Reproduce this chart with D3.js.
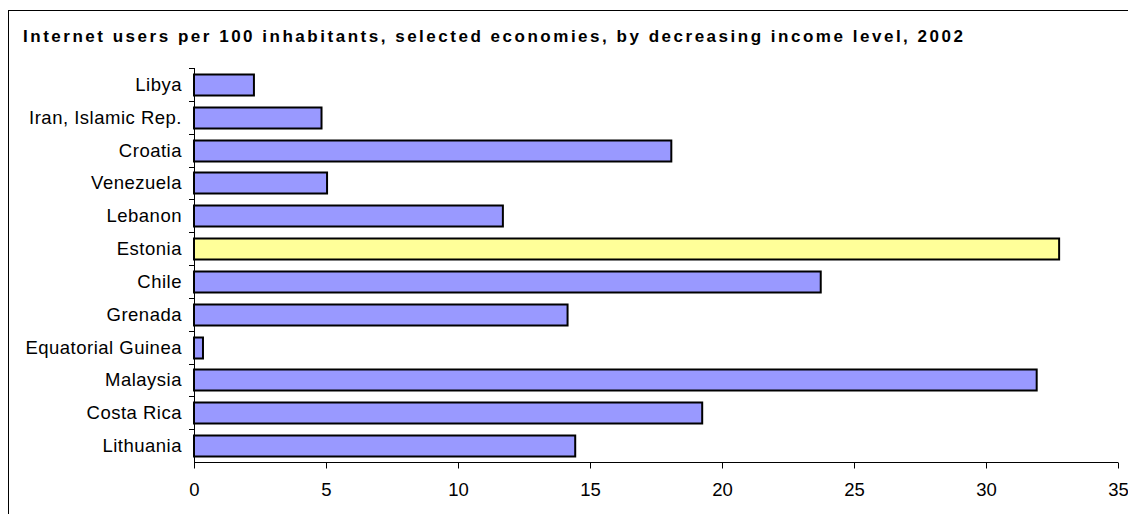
<!DOCTYPE html>
<html>
<head>
<meta charset="utf-8">
<script src="https://cdn.jsdelivr.net/npm/d3@7"></script>
<style>
  body { margin: 0; background: #fff; }
  svg { display: block; font-family: "Liberation Sans", Arial, sans-serif; }
</style>
</head>
<body>
<svg id="chart" width="1128" height="514"></svg>
<script>
const title = "Internet users per 100 inhabitants, selected economies, by decreasing income level, 2002";
const countries = ["Libya", "Iran, Islamic Rep.", "Croatia", "Venezuela", "Lebanon", "Estonia",
  "Chile", "Grenada", "Equatorial Guinea", "Malaysia", "Costa Rica", "Lithuania"];
const users = [2.27, 4.83, 18.08, 5.04, 11.7, 32.77, 23.74, 14.15, 0.34, 31.92, 19.25, 14.44];
const highlighted = ["Estonia"];
const xTicks = [0, 5, 10, 15, 20, 25, 30, 35];

const svg = d3.select("#chart");
const margin = { left: 194, top: 68, right: 1118, bottom: 462 };

// outer chart frame (runs off the right and bottom edge)
svg.append("rect")
  .attr("x", 8.5).attr("y", 10.5)
  .attr("width", 1200).attr("height", 600)
  .attr("fill", "none").attr("stroke", "#000").attr("stroke-width", 1);

svg.append("text")
  .attr("x", 23).attr("y", 41.5)
  .attr("font-size", 17).attr("font-weight", "bold")
  .attr("textLength", 940).attr("lengthAdjust", "spacing")
  .text(title);

const x = d3.scaleLinear().domain([0, 35]).range([margin.left, margin.right]);
const y = d3.scaleBand().domain(countries).range([margin.top, margin.bottom]).paddingInner(0.36).paddingOuter(0.18);
const band = d3.scaleBand().domain(countries).range([margin.top, margin.bottom]);

// bars
svg.append("g")
  .selectAll("rect")
  .data(countries)
  .join("rect")
  .attr("x", x(0))
  .attr("y", (d) => Math.round(y(d)) + 0.5)
  .attr("width", (d, i) => x(users[i]) - x(0))
  .attr("height", Math.round(y.bandwidth()))
  .attr("fill", (d) => highlighted.includes(d) ? "#ffff99" : "#9999ff")
  .attr("stroke", "#000")
  .attr("stroke-width", 2);

// category axis: line + ticks between categories
const yAxis = svg.append("g").attr("stroke", "#000").attr("stroke-width", 1);
yAxis.append("line")
  .attr("x1", margin.left + 0.5).attr("x2", margin.left + 0.5)
  .attr("y1", margin.top).attr("y2", margin.bottom);
yAxis.selectAll("line.tick")
  .data(countries)
  .join("line")
  .attr("class", "tick")
  .attr("x1", margin.left - 5).attr("x2", margin.left)
  .attr("y1", (d) => Math.round(band(d)) + 0.5)
  .attr("y2", (d) => Math.round(band(d)) + 0.5);

svg.append("g")
  .selectAll("text")
  .data(countries)
  .join("text")
  .attr("x", 182)
  .attr("y", (d) => band(d) + band.bandwidth() / 2)
  .attr("dy", "0.35em")
  .attr("text-anchor", "end")
  .attr("font-size", 18.5)
  .attr("letter-spacing", 0.5)
  .attr("fill", "#000")
  .text((d) => d);

// value axis
const xAxis = svg.append("g")
  .attr("transform", `translate(0,${margin.bottom + 0.5})`)
  .call(d3.axisBottom(x).tickValues(xTicks).tickSize(6).tickPadding(14).tickFormat(d3.format("d")));
xAxis.select(".domain").attr("stroke", "#000").attr("d", `M${margin.left},0H${margin.right}`);
xAxis.selectAll(".tick line").attr("stroke", "#000");
xAxis.selectAll(".tick text")
  .attr("font-size", 18.5)
  .attr("font-family", "'Liberation Sans', Arial, sans-serif")
  .attr("fill", "#000");
</script>
</body>
</html>
